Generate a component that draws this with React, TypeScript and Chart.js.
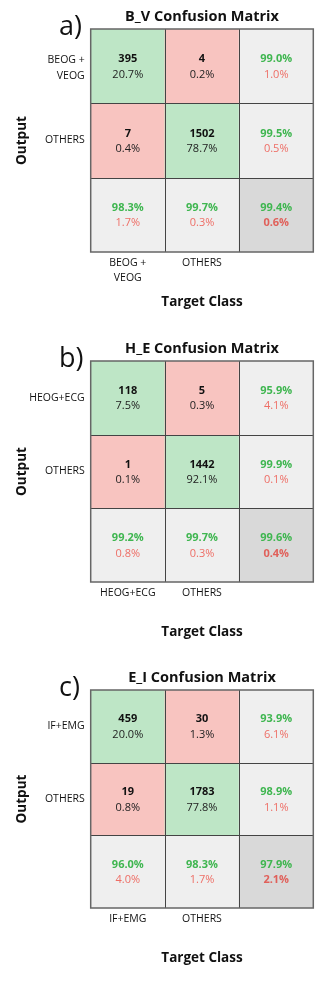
import React, { useEffect, useRef } from 'react';
import { Chart, registerables } from 'chart.js';

Chart.register(...registerables);

// ---------- data ----------
const titleA = 'B_V Confusion Matrix';
const classesA = ['BEOG +\nVEOG', 'OTHERS'];
const countsA = [[395, 4], [7, 1502]];
const cellPctA = [['20.7%', '0.2%'], ['0.4%', '78.7%']];
const rowPctA = [['99.0%', '1.0%'], ['99.5%', '0.5%']];
const colPctA = [['98.3%', '1.7%'], ['99.7%', '0.3%']];
const totalPctA = ['99.4%', '0.6%'];

const titleB = 'H_E Confusion Matrix';
const classesB = ['HEOG+ECG', 'OTHERS'];
const countsB = [[118, 5], [1, 1442]];
const cellPctB = [['7.5%', '0.3%'], ['0.1%', '92.1%']];
const rowPctB = [['95.9%', '4.1%'], ['99.9%', '0.1%']];
const colPctB = [['99.2%', '0.8%'], ['99.7%', '0.3%']];
const totalPctB = ['99.6%', '0.4%'];

const titleC = 'E_I Confusion Matrix';
const classesC = ['IF+EMG', 'OTHERS'];
const countsC = [[459, 30], [19, 1783]];
const cellPctC = [['20.0%', '1.3%'], ['0.8%', '77.8%']];
const rowPctC = [['93.9%', '6.1%'], ['98.9%', '1.1%']];
const colPctC = [['96.0%', '4.0%'], ['98.3%', '1.7%']];
const totalPctC = ['97.9%', '2.1%'];

const panelTags = ['a)', 'b)', 'c)'];
const yAxisTitle = 'Output';
const xAxisTitle = 'Target Class';

// ---------- style / layout ----------
const FONT = '"Open Sans", Lato, "DejaVu Sans", sans-serif';
const GREEN_CELL = '#BEE6C6';
const RED_CELL = '#F8C4C0';
const GRAY_CELL = '#EFEFEF';
const DARK_CELL = '#D9D9D9';
const GREEN_TEXT = '#3FB650';
const RED_TEXT = '#EE6E66';
const INNER_LINE = '#444444';
const OUTER_LINE = '#666666';

const W = 332;
const PAD_LEFT = 90.7;
const PAD_RIGHT = W - 313.3;

const layouts = [
  { height: 330, top: 29, bottom: 330 - 252 },
  { height: 330, top: 31, bottom: 330 - 582 + 330 },
  { height: 326, top: 30, bottom: 326 - 908 + 660 },
];

const panels = [
  { title: titleA, classes: classesA, counts: countsA, cellPct: cellPctA, rowPct: rowPctA, colPct: colPctA, totalPct: totalPctA },
  { title: titleB, classes: classesB, counts: countsB, cellPct: cellPctB, rowPct: rowPctB, colPct: colPctB, totalPct: totalPctB },
  { title: titleC, classes: classesC, counts: countsC, cellPct: cellPctC, rowPct: rowPctC, colPct: colPctC, totalPct: totalPctC },
];

function cellColor(r: number, c: number) {
  if (r < 2 && c < 2) return r === c ? GREEN_CELL : RED_CELL;
  if (r === 2 && c === 2) return DARK_CELL;
  return GRAY_CELL;
}

function makePlugin(panel: any, tag: string) {
  return {
    id: 'matrixText',
    afterDatasetsDraw(chart: any) {
      const ctx = chart.ctx;
      const xs = chart.scales.x;
      const ys = chart.scales.y;
      const area = chart.chartArea;
      const colW = (area.right - area.left) / 3;

      // grid lines
      ctx.save();
      ctx.strokeStyle = INNER_LINE;
      ctx.lineWidth = 1;
      for (let i = 1; i < 3; i++) {
        const x = Math.round(area.left + i * colW) + 0.5;
        ctx.beginPath();
        ctx.moveTo(x, area.top);
        ctx.lineTo(x, area.bottom);
        ctx.stroke();
        const y = Math.round(ys.getPixelForValue(i)) + 0.5;
        ctx.beginPath();
        ctx.moveTo(area.left, y);
        ctx.lineTo(area.right, y);
        ctx.stroke();
      }
      ctx.strokeStyle = OUTER_LINE;
      ctx.lineWidth = 1.5;
      ctx.strokeRect(area.left, area.top, area.right - area.left, area.bottom - area.top);

      // cell texts
      ctx.textAlign = 'center';
      ctx.textBaseline = 'middle';
      const put = (txt: string, x: number, y: number, color: string, bold: boolean) => {
        ctx.fillStyle = color;
        ctx.font = `${bold ? 'bold ' : ''}11px ${FONT}`;
        ctx.fillText(txt, x, y);
      };
      for (let r = 0; r < 3; r++) {
        const cy = ys.getPixelForValue(r + 0.5);
        for (let c = 0; c < 3; c++) {
          const cx = xs.getPixelForValue(c);
          const y1 = cy - 7;
          const y2 = cy + 8.5;
          if (r < 2 && c < 2) {
            put(String(panel.counts[r][c]), cx, y1, '#111111', true);
            put(panel.cellPct[r][c], cx, y2, '#222222', false);
          } else if (r < 2 && c === 2) {
            put(panel.rowPct[r][0], cx, y1, GREEN_TEXT, true);
            put(panel.rowPct[r][1], cx, y2, RED_TEXT, false);
          } else if (r === 2 && c < 2) {
            put(panel.colPct[c][0], cx, y1, GREEN_TEXT, true);
            put(panel.colPct[c][1], cx, y2, RED_TEXT, false);
          } else {
            put(panel.totalPct[0], cx, y1, GREEN_TEXT, true);
            put(panel.totalPct[1], cx, y2, '#E0605A', true);
          }
        }
      }

      // row labels
      ctx.fillStyle = '#111111';
      ctx.font = `10.5px ${FONT}`;
      ctx.textAlign = 'right';
      for (let r = 0; r < 2; r++) {
        const lines = panel.classes[r].split('\n');
        const cy = ys.getPixelForValue(r + 0.5) + (lines.length > 1 ? 1.5 : 0);
        lines.forEach((ln: string, i: number) => {
          ctx.fillText(ln, area.left - 6, cy + (i - (lines.length - 1) / 2) * 16);
        });
      }
      // column labels
      ctx.textAlign = 'center';
      for (let c = 0; c < 2; c++) {
        const lines = panel.classes[c].split('\n');
        const cx = xs.getPixelForValue(c);
        lines.forEach((ln: string, i: number) => {
          ctx.fillText(ln, cx, area.bottom + 11.5 + i * 15);
        });
      }

      // titles
      const midX = (area.left + area.right) / 2;
      ctx.font = `bold 14.5px ${FONT}`;
      ctx.fillText(panel.title, midX, area.top - 12.5);
      ctx.font = `bold 13.5px ${FONT}`;
      ctx.fillText(xAxisTitle, midX, area.bottom + 50.5);
      ctx.save();
      ctx.translate(22, (area.top + area.bottom) / 2);
      ctx.rotate(-Math.PI / 2);
      ctx.fillText(yAxisTitle, 0, 0);
      ctx.restore();

      // panel tag
      ctx.textAlign = 'left';
      ctx.textBaseline = 'alphabetic';
      ctx.font = `27px ${FONT}`;
      ctx.fillText(tag, 59, area.top + 6);
      ctx.restore();
    },
  };
}

function Panel({ index }: { index: number }) {
  const ref = useRef<HTMLCanvasElement | null>(null);
  const panel = panels[index];
  const lay = layouts[index];
  useEffect(() => {
    const datasets = [0, 1, 2].map((r) => ({
      label: 'row' + r,
      data: [0, 1, 2].map(() => [r, r + 1]),
      backgroundColor: [0, 1, 2].map((c) => cellColor(r, c)),
      borderWidth: 0,
      grouped: false,
      barPercentage: 1,
      categoryPercentage: 1,
    }));
    const chart = new Chart(ref.current as HTMLCanvasElement, {
      type: 'bar',
      data: { labels: [panel.classes[0], panel.classes[1], 'total'], datasets: datasets as any },
      options: {
        animation: false,
        responsive: false,
        events: [],
        layout: { padding: { left: PAD_LEFT, right: PAD_RIGHT, top: lay.top, bottom: lay.bottom } },
        scales: {
          x: { type: 'category', display: false, offset: true },
          y: { type: 'linear', display: false, min: 0, max: 3, reverse: true },
        },
        plugins: { legend: { display: false }, tooltip: { enabled: false }, title: { display: false } },
      },
      plugins: [makePlugin(panel, panelTags[index])],
    });
    return () => chart.destroy();
  }, []);
  return (
    <canvas
      ref={ref}
      width={W}
      height={lay.height}
      style={{ display: 'block', width: W, height: lay.height }}
    />
  );
}

export default function App() {
  useEffect(() => {
    document.body.style.margin = '0';
    document.body.style.background = '#ffffff';
  }, []);
  return (
    <div style={{ width: W, background: '#fff' }}>
      <Panel index={0} />
      <Panel index={1} />
      <Panel index={2} />
    </div>
  );
}
